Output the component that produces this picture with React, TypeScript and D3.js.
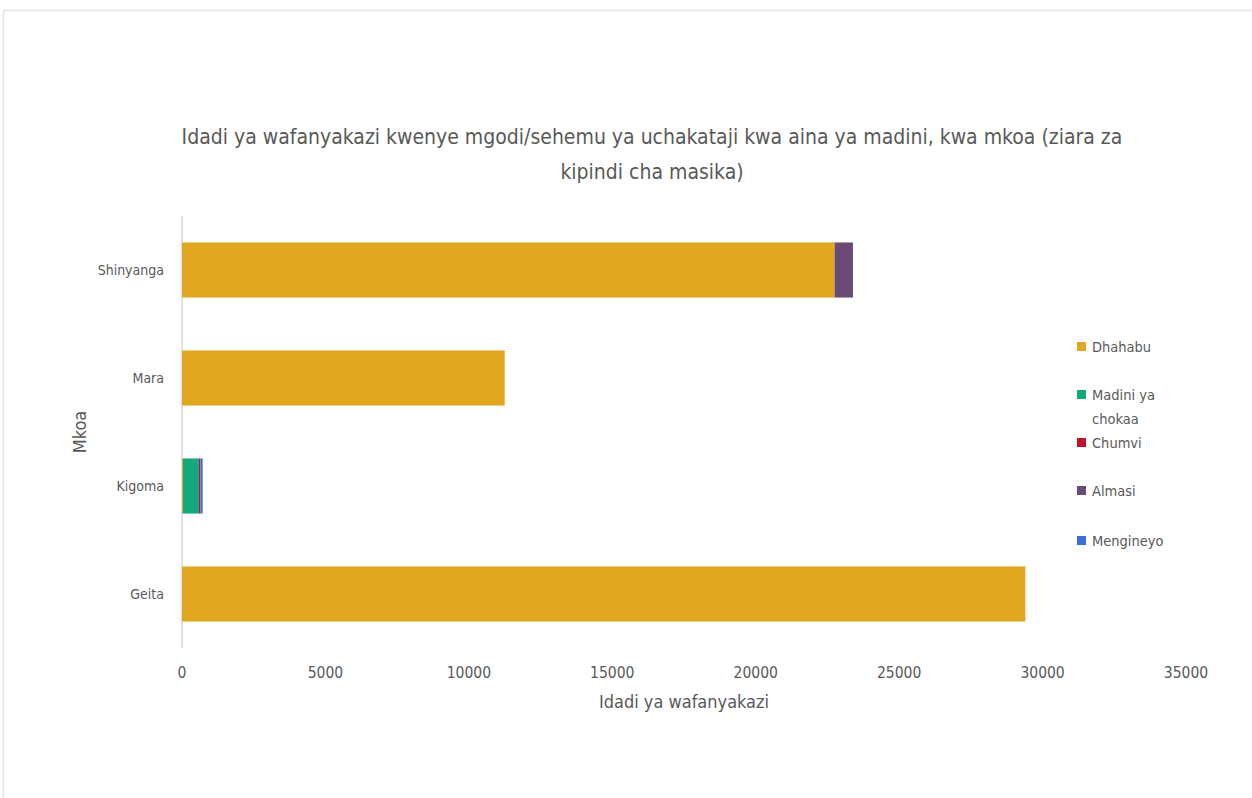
import React from "react";
import * as d3 from "d3";

const categories = ["Shinyanga", "Mara", "Kigoma", "Geita"];
const seriesNames = ["Dhahabu", "Madini ya chokaa", "Chumvi", "Almasi", "Mengineyo"];
const dhahabu = [22750, 11250, 30, 29400];
const chokaa = [0, 0, 560, 0];
const chumvi = [0, 0, 50, 0];
const almasi = [640, 0, 10, 0];
const mengineyo = [0, 0, 70, 0];
const xTicks = [0, 5000, 10000, 15000, 20000, 25000, 30000, 35000];
const colors = ["#E2A720", "#13A97A", "#C0122C", "#6B4A74", "#3B6FD6"];

const FONT = "'Liberation Sans Narrow', 'DejaVu Sans Condensed', 'Open Sans', sans-serif";

export default function App() {
  const W = 1252, H = 798;
  const x = d3.scaleLinear().domain([0, 35000]).range([182, 1186]);
  const y = d3.scaleBand().domain(categories).range([216, 648]).paddingInner(0.49).paddingOuter(0.245);
  const rows = categories.map((c, i) => ({
    cat: c,
    Dhahabu: dhahabu[i],
    "Madini ya chokaa": chokaa[i],
    Chumvi: chumvi[i],
    Almasi: almasi[i],
    Mengineyo: mengineyo[i],
  }));
  const stack = d3.stack<any>().keys(seriesNames)(rows);
  const legendY = [347, 395, 443, 491, 541];
  return (
    <svg width={W} height={H} style={{ position: "absolute", left: 0, top: 0, background: "#fff" }}>
      <rect x={3.5} y={10.5} width={1300} height={900} fill="#fff" stroke="#e4e4e4" strokeWidth={1.5} />
      <text x={652} y={144} textAnchor="middle" fontFamily={FONT} fontSize={21} fill="#595959">
        Idadi ya wafanyakazi kwenye mgodi/sehemu ya uchakataji kwa aina ya madini, kwa mkoa (ziara za
      </text>
      <text x={652} y={179} textAnchor="middle" fontFamily={FONT} fontSize={21} fill="#595959">
        kipindi cha masika)
      </text>
      <line x1={182} x2={182} y1={216} y2={648} stroke="#d9d9d9" strokeWidth={1.5} />
      {stack.map((s, si) =>
        s.map((d, i) => {
          const w = x(d[1]) - x(d[0]);
          if (w <= 0) return null;
          return (
            <rect key={si + "-" + i} x={x(d[0])} y={y(categories[i])!} width={w} height={y.bandwidth()} fill={colors[si]} />
          );
        })
      )}
      {categories.map((c) => (
        <text key={c} x={164} y={y(c)! + y.bandwidth() / 2 + 5} textAnchor="end" fontFamily={FONT} fontSize={14} fill="#595959">
          {c}
        </text>
      ))}
      {xTicks.map((t) => (
        <text key={t} x={x(t)} y={678} textAnchor="middle" fontFamily={FONT} fontSize={15.5} fill="#595959">
          {t}
        </text>
      ))}
      <text x={684} y={708} textAnchor="middle" fontFamily={FONT} fontSize={18} fill="#595959">
        Idadi ya wafanyakazi
      </text>
      <text transform="translate(86,432) rotate(-90)" textAnchor="middle" fontFamily={FONT} fontSize={18} fill="#595959">
        Mkoa
      </text>
      {seriesNames.map((n, i) => (
        <g key={n} transform={`translate(1077,${legendY[i]})`}>
          <rect x={0} y={-5} width={9} height={9} fill={colors[i]} />
          {n === "Madini ya chokaa" ? (
            <text x={15} y={5} fontFamily={FONT} fontSize={14.5} fill="#595959">
              <tspan x={15}>Madini ya</tspan>
              <tspan x={15} dy={24}>chokaa</tspan>
            </text>
          ) : (
            <text x={15} y={5} fontFamily={FONT} fontSize={14.5} fill="#595959">{n}</text>
          )}
        </g>
      ))}
    </svg>
  );
}
